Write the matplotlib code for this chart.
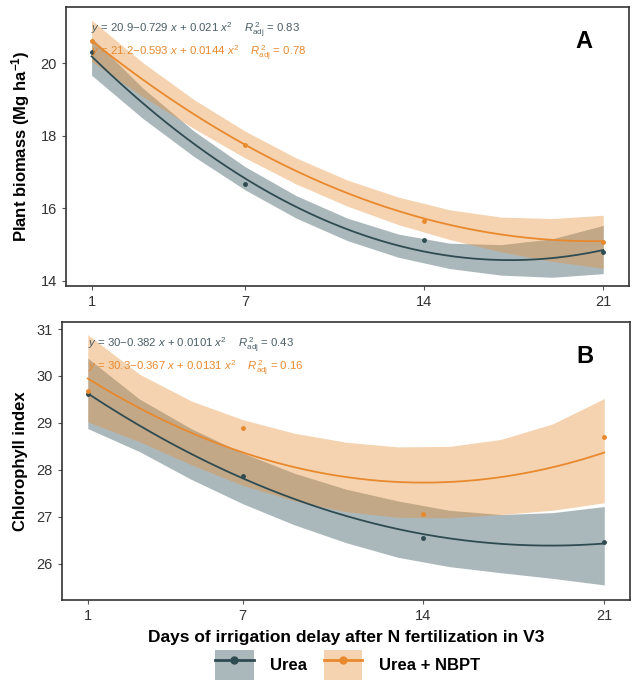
import numpy as np
import matplotlib
matplotlib.use('Agg')
import matplotlib.pyplot as plt
from matplotlib.patches import Patch
from matplotlib.lines import Line2D

plt.rcParams['font.family'] = ['Liberation Sans', 'DejaVu Sans']
plt.rcParams['mathtext.fontset'] = 'custom'
plt.rcParams['mathtext.rm'] = 'Liberation Sans'
plt.rcParams['mathtext.it'] = 'Liberation Sans:italic'
plt.rcParams['mathtext.bf'] = 'Liberation Sans:bold'

# observed means
days = [1, 7, 14, 21]
biomass_urea = [20.31, 16.67, 15.13, 14.80]
biomass_nbpt = [20.60, 17.75, 15.65, 15.07]
chl_urea = [29.62, 27.87, 26.55, 26.47]
chl_nbpt = [29.68, 28.89, 27.06, 28.70]

# quadratic fits printed on the chart (c0, c1, c2)
fit_biomass_urea = [20.9, -0.729, 0.021]
fit_biomass_nbpt = [21.2, -0.593, 0.0144]
fit_chl_urea = [30.0, -0.382, 0.0101]
fit_chl_nbpt = [30.3, -0.367, 0.0131]

# confidence band edges
band_x = [1, 3, 5, 7, 9, 11, 13, 15, 17, 19, 21]
biomass_urea_hi = [20.71, 19.32, 18.13, 17.15, 16.35, 15.73, 15.29, 15.04, 15.00, 15.16, 15.53]
biomass_urea_lo = [19.67, 18.48, 17.43, 16.51, 15.73, 15.11, 14.65, 14.34, 14.16, 14.10, 14.20]
biomass_nbpt_hi = [21.19, 20.02, 19.00, 18.13, 17.39, 16.78, 16.31, 15.96, 15.76, 15.72, 15.81]
biomass_nbpt_lo = [20.05, 19.08, 18.20, 17.39, 16.67, 16.06, 15.55, 15.14, 14.80, 14.54, 14.35]
chl_urea_hi = [30.38, 29.51, 28.88, 28.36, 27.93, 27.59, 27.34, 27.14, 27.05, 27.09, 27.22]
chl_urea_lo = [28.88, 28.39, 27.80, 27.28, 26.83, 26.45, 26.14, 25.94, 25.81, 25.69, 25.55]
chl_nbpt_hi = [30.88, 30.04, 29.47, 29.07, 28.78, 28.59, 28.49, 28.50, 28.65, 28.98, 29.52]
chl_nbpt_lo = [29.02, 28.60, 28.11, 27.67, 27.34, 27.11, 26.99, 26.98, 27.05, 27.14, 27.30]

eq_biomass = [r'$y$ = 20.9$-$0.729 $x$ + 0.021 $x^2$    $R^{\,2}_{\mathrm{adj}}$ = 0.83',
              r'$y$ = 21.2$-$0.593 $x$ + 0.0144 $x^2$    $R^{\,2}_{\mathrm{adj}}$ = 0.78']
eq_chl = [r'$y$ = 30$-$0.382 $x$ + 0.0101 $x^2$    $R^{\,2}_{\mathrm{adj}}$ = 0.43',
          r'$y$ = 30.3$-$0.367 $x$ + 0.0131 $x^2$    $R^{\,2}_{\mathrm{adj}}$ = 0.16']

c_urea = '#2f4b52'
c_nbpt = '#e8892e'
f_urea = '#2f4f55'
f_nbpt = '#e8923a'

fig = plt.figure(figsize=(6.32, 6.89), dpi=100)
axA = fig.add_axes([0.1044, 0.5849, 0.8906, 0.4049])
axB = fig.add_axes([0.0980, 0.1292, 0.8990, 0.4035])

xs = np.linspace(1, 21, 200)


def panel(ax, obs_u, obs_n, fit_u, fit_n, uhi, ulo, nhi, nlo, eqs, letter):
    ax.fill_between(band_x, ulo, uhi, color=f_urea, alpha=0.4, lw=0)
    ax.fill_between(band_x, nlo, nhi, color=f_nbpt, alpha=0.4, lw=0)
    ax.plot(xs, np.polyval(fit_u[::-1], xs), color=c_urea, lw=1.3)
    ax.plot(xs, np.polyval(fit_n[::-1], xs), color=c_nbpt, lw=1.3)
    ax.plot(days, obs_u, 'o', color=c_urea, ms=2.5)
    ax.plot(days, obs_n, 'o', color=c_nbpt, ms=2.5)
    ax.text(0.045, 0.915, eqs[0], transform=ax.transAxes, color='#4a5e66', fontsize=8.2, va='center')
    ax.text(0.045, 0.835, eqs[1], transform=ax.transAxes, color=c_nbpt, fontsize=8.2, va='center')
    ax.text(0.92, 0.875, letter, transform=ax.transAxes, fontsize=17, fontweight='bold', ha='center', va='center')
    ax.set_xlim(0, 22)
    ax.set_xticks(days)
    for s in ax.spines.values():
        s.set_color('#333333')
        s.set_linewidth(1.2)
    ax.tick_params(length=3, color='#555555', labelsize=10.5, labelcolor='#333333')


panel(axA, biomass_urea, biomass_nbpt, fit_biomass_urea, fit_biomass_nbpt,
      biomass_urea_hi, biomass_urea_lo, biomass_nbpt_hi, biomass_nbpt_lo, eq_biomass, 'A')
axA.set_ylim(13.86, 21.55)
axA.set_yticks([14, 16, 18, 20])
axA.set_ylabel('Plant biomass (Mg ha$^{\\mathbf{-1}}$)', fontsize=12, fontweight='bold', labelpad=6)

panel(axB, chl_urea, chl_nbpt, fit_chl_urea, fit_chl_nbpt,
      chl_urea_hi, chl_urea_lo, chl_nbpt_hi, chl_nbpt_lo, eq_chl, 'B')
axB.set_ylim(25.23, 31.15)
axB.set_yticks([26, 27, 28, 29, 30, 31])
axB.set_ylabel('Chlorophyll index', fontsize=12, fontweight='bold', labelpad=6)
axB.set_xlabel('Days of irrigation delay after N fertilization in V3', fontsize=12.5, fontweight='bold', labelpad=5)

h_urea = (Patch(color=f_urea, alpha=0.4, lw=0), Line2D([], [], color=c_urea, lw=2, marker='o', ms=5))
h_nbpt = (Patch(color=f_nbpt, alpha=0.4, lw=0), Line2D([], [], color=c_nbpt, lw=2, marker='o', ms=5))
fig.legend([h_urea, h_nbpt], ['Urea', 'Urea + NBPT'], loc='center', bbox_to_anchor=(0.55, 0.035),
           ncol=2, frameon=False, prop={'weight': 'bold', 'size': 12},
           handlelength=2.3, handleheight=2.4, columnspacing=1.0, handletextpad=1.0)

fig.savefig('out.png', dpi=100)
